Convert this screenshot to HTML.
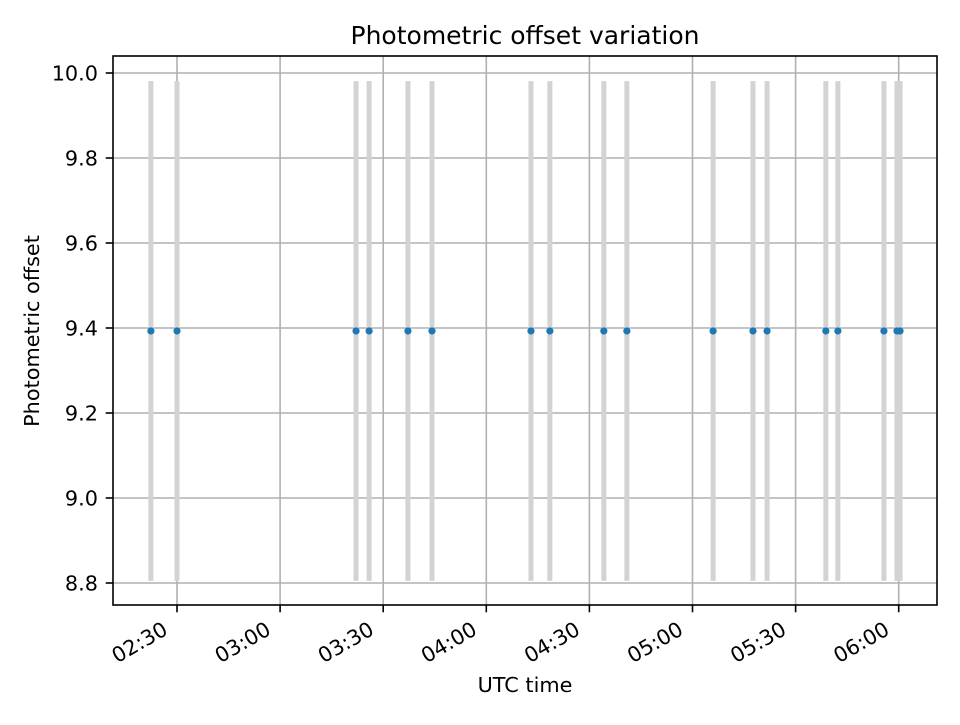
<!DOCTYPE html>
<html><head><meta charset="utf-8"><style>
body{margin:0;background:#fff;}
svg text{font-family:"DejaVu Sans","Liberation Sans",sans-serif;fill:#000;}
</style></head><body>
<svg id="chart" width="960" height="720" xmlns="http://www.w3.org/2000/svg">
<rect width="960" height="720" fill="#fff"/>
<g id="grid"></g><g id="bars"></g><g id="pts"></g><g id="axes"></g>
</svg>
<script>
// minutes since 00:00 UTC
const times = [142.4,150,202.1,205.9,217.2,224.2,253,258.5,274.2,280.9,306,317.6,321.7,338.8,342.3,355.7,359.5,360.4];
const offsets = [9.393,9.393,9.393,9.393,9.393,9.393,9.393,9.393,9.393,9.393,9.393,9.393,9.393,9.393,9.393,9.393,9.393,9.393];
const errors = [0.588,0.588,0.588,0.588,0.588,0.588,0.588,0.588,0.588,0.588,0.588,0.588,0.588,0.588,0.588,0.588,0.588,0.588];
const yTicks = [8.8,9.0,9.2,9.4,9.6,9.8,10.0];
const xTicks = [150,180,210,240,270,300,330,360];
const xTickLabels = ["02:30","03:00","03:30","04:00","04:30","05:00","05:30","06:00"];

const L=113,R=937,T=56,B=605;
const FS=20.8;
const xs = m => 177 + (m-150)*(103.1/30);
const ys = v => 73 + (10-v)*(510/1.2);
const NS="http://www.w3.org/2000/svg";
function mk(tag,attrs,parent){const e=document.createElementNS(NS,tag);for(const k in attrs)e.setAttribute(k,attrs[k]);parent.appendChild(e);return e;}
const grid=document.getElementById('grid'),bars=document.getElementById('bars'),pts=document.getElementById('pts'),axes=document.getElementById('axes');

xTicks.forEach((t,i)=>{
  const x=xs(t);
  const g=mk('line',{x1:x,x2:x,y1:T,y2:B,stroke:'#b0b0b0','stroke-width':1.6},grid);
  
  
  mk('line',{x1:x,x2:x,y1:B,y2:B+7.3,stroke:'#000','stroke-width':1.6},axes);
  const x0=x-7.9,y0=B+28.5;
  const tx=mk('text',{x:x0,y:y0,'font-size':FS,'text-anchor':'end',transform:`rotate(-30 ${x0} ${y0})`},axes);
  tx.textContent=xTickLabels[i];
  
  
});
yTicks.forEach(v=>{
  const y=ys(v);
  const g=mk('line',{x1:L,x2:R,y1:y,y2:y,stroke:'#b0b0b0','stroke-width':1.6},grid);
  
  
  mk('line',{x1:L-7.3,x2:L,y1:y,y2:y,stroke:'#000','stroke-width':1.6},axes);
  const tx=mk('text',{x:L-15,y:y+7.6,'font-size':FS,'text-anchor':'end'},axes);
  tx.textContent=v.toFixed(1);
  
  
});
times.forEach((t,i)=>{
  const x=xs(t);
  const b=mk('line',{x1:x,x2:x,y1:ys(offsets[i]+errors[i]),y2:ys(offsets[i]-errors[i]),stroke:'#d3d3d3','stroke-width':5},bars);
  
  
  const c=mk('circle',{cx:x,cy:ys(offsets[i]),r:3.6,fill:'#1f77b4'},pts);
  
  
});
const fr=mk('rect',{x:L,y:T,width:R-L,height:B-T,fill:'none',stroke:'#000','stroke-width':1.6},axes);


const title=mk('text',{x:(L+R)/2,y:44,'font-size':25,'text-anchor':'middle'},axes);
title.textContent='Photometric offset variation';


const xl=mk('text',{x:(L+R)/2,y:692,'font-size':FS,'text-anchor':'middle'},axes);
xl.textContent='UTC time';


const yl=mk('text',{x:39,y:331,'font-size':FS,'text-anchor':'middle',transform:'rotate(-90 39 331)'},axes);
yl.textContent='Photometric offset';


</script>
</body></html>
